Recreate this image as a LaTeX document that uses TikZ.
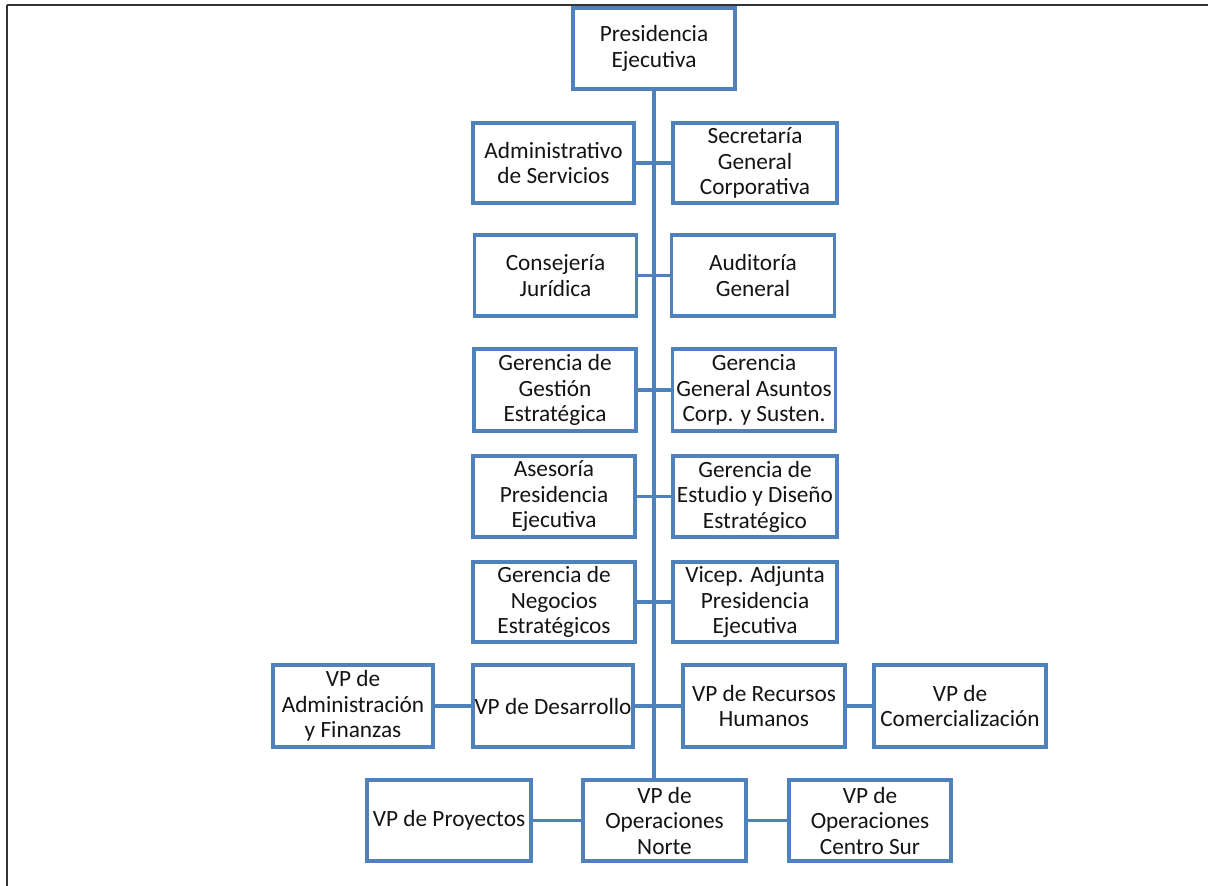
\documentclass[tikz,border=0pt]{standalone}
\usepackage{fontspec}
\setmainfont{Carlito}
\definecolor{boxblue}{HTML}{4F81BD}
\definecolor{frame}{HTML}{333333}
\begin{document}
\begin{tikzpicture}[x=1pt,y=-1pt,
  box/.style={draw=boxblue, line width=3.4pt, fill=white, inner sep=0pt, align=center,
    minimum height=80pt, font=\fontsize{23.3}{25.5}\selectfont, text=black!92},
  link/.style={draw=boxblue, line width=3.4pt}]
\useasboundingbox (0,0) rectangle (1208,886);
\draw[frame, line width=2.6pt] (7,5) -- (1220,5);
\draw[frame, line width=2.6pt] (7,5) -- (7,900);
% nodes
\node[box, minimum width=162pt, minimum height=81pt] (pres) at (654,48.5) {Presidencia\\Ejecutiva};
\node[box, minimum width=161pt] (adm) at (553.5,163) {Administrativo\\de Servicios};
\node[box, minimum width=164pt] (sec) at (755,163) {Secretaría\\General\\Corporativa};
\node[box, minimum width=162pt, minimum height=81pt] (cons) at (555.5,275.5) {Consejería\\Jurídica};
\node[box, minimum width=163pt, minimum height=81pt] (aud) at (753,275.5) {Auditoría\\General};
\node[box, minimum width=162pt, minimum height=82pt] (ggest) at (555,390) {Gerencia de\\Gestión\\Estratégica};
\node[box, minimum width=163pt, minimum height=82pt] (ggen) at (754,390) {Gerencia\\General Asuntos\\Corp. y Susten.};
\node[box, minimum width=162pt, minimum height=81pt] (ases) at (554,496.5) {Asesoría\\Presidencia\\Ejecutiva};
\node[box, minimum width=164pt, minimum height=81pt] (gest) at (755,496.5) {Gerencia de\\Estudio y Diseño\\Estratégico};
\node[box, minimum width=162pt] (gneg) at (554,602) {Gerencia de\\Negocios\\Estratégicos};
\node[box, minimum width=164pt] (vicep) at (755,602) {Vicep. Adjunta\\Presidencia\\Ejecutiva};
\node[box, minimum width=160pt, minimum height=82pt] (vpadm) at (353,706) {VP de\\Administración\\y Finanzas};
\node[box, minimum width=160pt, minimum height=82pt] (vpdes) at (553,706) {VP de Desarrollo};
\node[box, minimum width=162pt, minimum height=82pt] (vprh) at (764,706) {VP de Recursos\\Humanos};
\node[box, minimum width=172pt, minimum height=82pt] (vpcom) at (960,706) {VP de\\Comercialización};
\node[box, minimum width=164pt, minimum height=81pt] (vpproy) at (449,820.5) {VP de Proyectos};
\node[box, minimum width=163pt, minimum height=81pt] (vpnorte) at (664.5,820.5) {VP de\\Operaciones\\Norte};
\node[box, minimum width=162pt, minimum height=81pt] (vpcs) at (870,820.5) {VP de\\Operaciones\\Centro Sur};
% connectors
\coordinate (trunkend) at (pres.south |- vpnorte.north);
\draw[link] (pres.south) -- (trunkend);
\draw[link] (adm.east) -- (sec.west);
\draw[link] (cons.east) -- (aud.west);
\draw[link] (ggest.east) -- (ggen.west);
\draw[link] (ases.east) -- (gest.west);
\draw[link] (gneg.east) -- (vicep.west);
\draw[link] (vpadm.east) -- (vpdes.west);
\draw[link] (vpdes.east) -- (vprh.west);
\draw[link] (vprh.east) -- (vpcom.west);
\draw[link] (vpproy.east) -- (vpnorte.west);
\draw[link] (vpnorte.east) -- (vpcs.west);
\end{tikzpicture}
\end{document}
